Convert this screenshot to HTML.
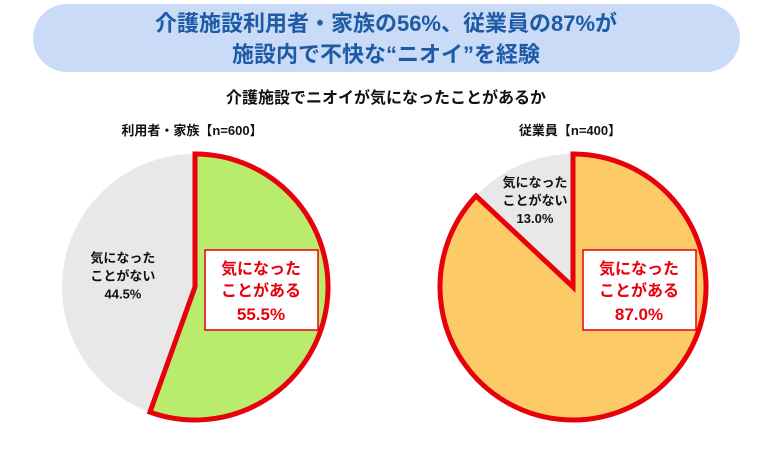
<!DOCTYPE html>
<html><head><meta charset="utf-8"><style>
body{margin:0;width:770px;height:451px;background:#fff;font-family:"Liberation Sans","Noto Sans CJK JP",sans-serif;overflow:hidden}
svg text{font-family:"Liberation Sans","Noto Sans CJK JP",sans-serif}
</style></head><body>
<svg width="770" height="451">
<rect x="33" y="4" width="707" height="68" rx="34" fill="#c9dbf6"/>
<text x="386" y="31" text-anchor="middle" font-size="22" font-weight="bold" fill="#1e5ba6">介護施設利用者・家族の56%、従業員の87%が</text>
<text x="386" y="62" text-anchor="middle" font-size="22" font-weight="bold" fill="#1e5ba6">施設内で不快な“ニオイ”を経験</text>
<text x="386" y="103" text-anchor="middle" font-size="16" font-weight="bold" fill="#111">介護施設でニオイが気になったことがあるか</text>
<g id="pies"></g>
</svg>
<script>
const groups=["利用者・家族【n=600】","従業員【n=400】"];
const yesValues=[55.5,87.0];
const noValues=[44.5,13.0];
const yesColors=["#b9ec6c","#fdca68"];
const centers=[[195,287],[573,287]];
const R=133;
const ns="http://www.w3.org/2000/svg";
const g=document.getElementById('pies');
function pt(cx,cy,pct){const a=pct/100*2*Math.PI;return [cx+R*Math.sin(a),cy-R*Math.cos(a)];}
function mk(tag,attrs){const e=document.createElementNS(ns,tag);for(const k in attrs)e.setAttribute(k,attrs[k]);g.appendChild(e);return e;}
function txt(x,y,s,size,fill){const t=mk('text',{x:x,y:y,'text-anchor':'middle','font-size':size,'font-weight':'bold',fill:fill});t.textContent=s;return t;}
groups.forEach((name,i)=>{
 const [cx,cy]=centers[i];
 const c=mk('circle',{cx:cx,cy:cy,r:R,fill:'#e8e8e8'});
 
 
 const v=yesValues[i];const [ex,ey]=pt(cx,cy,v);
 const p=mk('path',{d:`M${cx},${cy} L${cx},${cy-R} A${R},${R} 0 ${v>50?1:0} 1 ${ex},${ey} Z`,fill:yesColors[i],stroke:'#e8000b','stroke-width':5,'stroke-linejoin':'miter'});
 
 
 const lab=txt(cx-3,135,name,13,'#111');
 
 
 // yes box
 const bx=cx+10,by=250;
 const r=mk('rect',{x:bx,y:by,width:113,height:80,fill:'#fff',stroke:'#e8000b','stroke-width':1.5});
 
 
 const t1=txt(bx+56,by+24,'気になった',16,'#e8000b');
 
 
 const t2=txt(bx+56,by+46,'ことがある',16,'#e8000b');
 
 
 const t3=txt(bx+56,by+70,v.toFixed(1)+'%',17,'#e8000b');
 
 
 // no label at mid-angle
 const mid=v+noValues[i]/2;
 const rr=i===0?0.55:0.72;
 const a=mid/100*2*Math.PI;
 const nx=cx+R*rr*Math.sin(a),ny=cy-R*rr*Math.cos(a);
 const n1=txt(nx,ny-12,'気になった',13,'#111');
 
 
 const n2=txt(nx,ny+6,'ことがない',13,'#111');
 
 
 const n3=txt(nx,ny+24,noValues[i].toFixed(1)+'%',13,'#111');
 
 
});
</script>
</body></html>
